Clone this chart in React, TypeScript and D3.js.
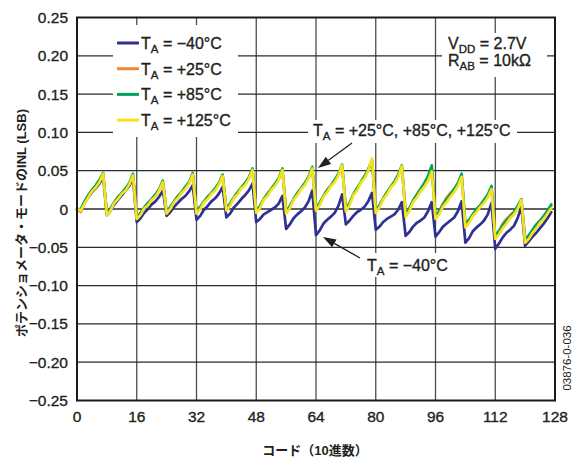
import React from "react";
import * as d3 from "d3";

// INL (LSB) per code, potentiometer mode, VDD = 2.7 V, RAB = 10 kΩ
const inlM40: number[] = [
  0.000, -0.002, 0.008, 0.015, 0.022, 0.027, 0.033, 0.042,
  -0.008, -0.002, 0.006, 0.012, 0.018, 0.024, 0.030, 0.040,
  -0.017, -0.012, -0.005, 0.000, 0.006, 0.010, 0.016, 0.024,
  -0.009, -0.004, 0.003, 0.008, 0.013, 0.017, 0.023, 0.031,
  -0.014, -0.009, -0.001, 0.004, 0.010, 0.014, 0.020, 0.029,
  -0.011, -0.006, 0.002, 0.007, 0.013, 0.018, 0.024, 0.033,
  -0.017, -0.013, -0.007, -0.004, -0.001, 0.002, 0.007, 0.017,
  -0.026, -0.020, -0.012, -0.007, -0.003, 0.002, 0.010, 0.024,
  -0.034, -0.028, -0.019, -0.014, -0.010, -0.005, 0.004, 0.019,
  -0.020, -0.015, -0.009, -0.004, -0.001, 0.003, 0.010, 0.021,
  -0.027, -0.023, -0.017, -0.013, -0.010, -0.007, -0.001, 0.009,
  -0.035, -0.030, -0.023, -0.018, -0.015, -0.011, -0.003, 0.009,
  -0.036, -0.030, -0.023, -0.019, -0.015, -0.011, -0.003, 0.010,
  -0.044, -0.038, -0.029, -0.024, -0.020, -0.015, -0.007, 0.008,
  -0.052, -0.045, -0.037, -0.031, -0.027, -0.022, -0.012, 0.003,
  -0.048, -0.042, -0.036, -0.031, -0.025, -0.019, -0.012, -0.004,
];

const inlP25: number[] = [
  0.000, -0.004, 0.008, 0.017, 0.024, 0.030, 0.036, 0.045,
  -0.006, 0.000, 0.009, 0.015, 0.021, 0.026, 0.033, 0.043,
  -0.012, -0.006, 0.002, 0.007, 0.013, 0.018, 0.025, 0.034,
  -0.004, 0.002, 0.010, 0.016, 0.022, 0.028, 0.034, 0.044,
  -0.004, 0.002, 0.010, 0.015, 0.021, 0.026, 0.033, 0.042,
  0.000, 0.006, 0.015, 0.021, 0.028, 0.033, 0.040, 0.050,
  -0.003, 0.003, 0.013, 0.019, 0.026, 0.032, 0.039, 0.050,
  -0.004, 0.003, 0.013, 0.020, 0.027, 0.033, 0.041, 0.052,
  0.000, 0.007, 0.017, 0.024, 0.031, 0.037, 0.045, 0.056,
  -0.001, 0.007, 0.019, 0.026, 0.035, 0.042, 0.051, 0.064,
  -0.003, 0.004, 0.014, 0.021, 0.029, 0.035, 0.043, 0.055,
  -0.007, 0.000, 0.011, 0.018, 0.026, 0.033, 0.041, 0.053,
  -0.011, -0.004, 0.007, 0.015, 0.021, 0.026, 0.032, 0.043,
  -0.021, -0.015, -0.007, -0.001, 0.005, 0.011, 0.017, 0.027,
  -0.036, -0.029, -0.019, -0.013, -0.008, -0.004, 0.002, 0.011,
  -0.041, -0.036, -0.028, -0.022, -0.016, -0.011, -0.005, 0.004,
];

const inlP85: number[] = [
  0.000, 0.000, 0.010, 0.018, 0.025, 0.031, 0.038, 0.047,
  -0.006, 0.001, 0.009, 0.016, 0.021, 0.027, 0.034, 0.046,
  -0.012, -0.005, 0.002, 0.008, 0.013, 0.019, 0.026, 0.037,
  -0.004, 0.003, 0.010, 0.017, 0.022, 0.029, 0.035, 0.047,
  -0.003, 0.003, 0.010, 0.016, 0.021, 0.027, 0.034, 0.045,
  0.000, 0.007, 0.015, 0.022, 0.028, 0.034, 0.041, 0.053,
  -0.003, 0.004, 0.013, 0.020, 0.026, 0.033, 0.040, 0.053,
  -0.004, 0.004, 0.013, 0.021, 0.027, 0.034, 0.042, 0.055,
  0.001, 0.008, 0.017, 0.025, 0.031, 0.038, 0.046, 0.058,
  0.000, 0.008, 0.019, 0.027, 0.035, 0.043, 0.052, 0.063,
  -0.002, 0.005, 0.014, 0.022, 0.029, 0.036, 0.045, 0.057,
  -0.006, 0.001, 0.011, 0.019, 0.026, 0.034, 0.043, 0.057,
  -0.010, -0.003, 0.006, 0.013, 0.019, 0.026, 0.034, 0.046,
  -0.020, -0.014, -0.007, 0.000, 0.005, 0.012, 0.019, 0.030,
  -0.035, -0.029, -0.021, -0.015, -0.010, -0.004, 0.004, 0.013,
  -0.040, -0.034, -0.027, -0.020, -0.015, -0.009, -0.002, 0.006,
];

const inlP125: number[] = [
  0.000, -0.002, 0.007, 0.015, 0.023, 0.028, 0.035, 0.046,
  -0.008, -0.002, 0.008, 0.013, 0.020, 0.024, 0.032, 0.044,
  -0.013, -0.008, 0.001, 0.005, 0.012, 0.016, 0.024, 0.035,
  -0.006, 0.000, 0.009, 0.014, 0.021, 0.026, 0.033, 0.045,
  -0.006, 0.000, 0.009, 0.013, 0.020, 0.024, 0.032, 0.043,
  -0.002, 0.004, 0.014, 0.019, 0.027, 0.031, 0.039, 0.051,
  -0.005, 0.001, 0.012, 0.017, 0.025, 0.030, 0.038, 0.051,
  -0.006, 0.001, 0.012, 0.018, 0.026, 0.031, 0.040, 0.053,
  -0.002, 0.005, 0.016, 0.022, 0.030, 0.035, 0.044, 0.057,
  -0.003, 0.005, 0.018, 0.024, 0.034, 0.040, 0.050, 0.066,
  -0.005, 0.002, 0.013, 0.019, 0.028, 0.033, 0.042, 0.056,
  -0.010, -0.003, 0.009, 0.015, 0.023, 0.029, 0.037, 0.049,
  -0.013, -0.007, 0.003, 0.009, 0.016, 0.022, 0.030, 0.042,
  -0.024, -0.018, -0.009, -0.004, 0.003, 0.008, 0.015, 0.026,
  -0.039, -0.033, -0.025, -0.019, -0.012, -0.007, 0.000, 0.012,
  -0.044, -0.039, -0.031, -0.025, -0.018, -0.013, -0.006, 0.001,
];

const seriesTemps = ["−40°C", "+25°C", "+85°C", "+125°C"];
const seriesColors = ["#2e3192", "#f58634", "#00a45a", "#f7e21d"];
const seriesValues = [inlM40, inlP25, inlP85, inlP125];

const xTicks = [0, 16, 32, 48, 64, 80, 96, 112, 128];
const yTicks = [0.25, 0.2, 0.15, 0.1, 0.05, 0, -0.05, -0.1, -0.15, -0.2, -0.25];
const yTickLabels = ["0.25", "0.20", "0.15", "0.10", "0.05", "0", "−0.05", "−0.10", "−0.15", "−0.20", "−0.25"];

const W = 573;
const H = 459;
const FONT = "'Liberation Sans', Arial, Helvetica, 'Noto Sans CJK JP', sans-serif";
const TEXT = "#231f20";
// slight outline to give the Helvetica-style labels a medium weight
const heavy = { stroke: TEXT, strokeWidth: 0.35 } as const;

function Arrow({ x1, y1, x2, y2 }: { x1: number; y1: number; x2: number; y2: number }) {
  const ang = Math.atan2(y2 - y1, x2 - x1);
  const len = 13;
  const half = 4.5;
  const bx = x2 - len * Math.cos(ang);
  const by = y2 - len * Math.sin(ang);
  const px = -Math.sin(ang) * half;
  const py = Math.cos(ang) * half;
  return (
    <g>
      <line x1={x1} y1={y1} x2={bx} y2={by} stroke={TEXT} strokeWidth={1.3} />
      <polygon points={`${x2},${y2} ${bx + px},${by + py} ${bx - px},${by - py}`} fill={TEXT} />
    </g>
  );
}

export default function App() {
  const x = d3.scaleLinear().domain([0, 128]).range([77, 555]);
  const y = d3.scaleLinear().domain([-0.25, 0.25]).range([400.5, 17.5]);
  const line = d3
    .line<number>()
    .x((_, i) => x(i))
    .y((d) => y(d))
    .curve(d3.curveLinear);

  const [x0, x1] = x.range();
  const [yb, yt] = y.range();

  return (
    <svg
      width={W}
      height={H}
      viewBox={`0 0 ${W} ${H}`}
      style={{ position: "absolute", left: 0, top: 0, background: "#fff" }}
      fontFamily={FONT}
    >
      <rect x={0} y={0} width={W} height={H} fill="#fff" />

      {/* grid */}
      {xTicks.slice(1, -1).map((t) => (
        <line key={"gx" + t} x1={x(t)} x2={x(t)} y1={yt} y2={yb} stroke="#4d4d4d" strokeWidth={1.3} />
      ))}
      {yTicks.slice(1, -1).map((t) => (
        <line key={"gy" + t} x1={x0} x2={x1} y1={y(t)} y2={y(t)} stroke="#2b2b2b" strokeWidth={1.3} />
      ))}

      {/* label backgrounds */}
      <rect x={113} y={25} width={125} height={112} fill="#fff" />
      <rect x={442} y={33} width={105} height={44} fill="#fff" />
      <rect x={308} y={120} width={209} height={23} fill="#fff" />
      <rect x={362} y={253} width={93} height={24} fill="#fff" />

      {/* curves */}
      {seriesValues.map((vals, i) => (
        <path
          key={"s" + i}
          d={line(vals) || ""}
          fill="none"
          stroke={seriesColors[i]}
          strokeWidth={2.7}
          strokeLinejoin="round"
          strokeLinecap="round"
        />
      ))}

      {/* frame */}
      <rect x={x0} y={yt} width={x1 - x0} height={yb - yt} fill="none" stroke="#1a1a1a" strokeWidth={2} />

      {/* tick labels */}
      {yTicks.map((t, i) => (
        <text key={"yl" + t} x={68} y={y(t) + 5.5} textAnchor="end" fontSize={15.5} fill={TEXT} {...heavy}>
          {yTickLabels[i]}
        </text>
      ))}
      {xTicks.map((t) => (
        <text key={"xl" + t} x={x(t)} y={422} textAnchor="middle" fontSize={15.5} fill={TEXT} {...heavy}>
          {t}
        </text>
      ))}

      {/* axis titles */}
      <text x={315} y={455} textAnchor="middle" fontSize={13} fontWeight="bold" fill={TEXT}>
        コード（10進数）
      </text>
      <text
        transform="translate(26,223) rotate(-90)"
        textAnchor="middle"
        fontSize={13}
        fontWeight="bold"
        fill={TEXT}
      >
        ポテンショメータ・モードのINL (LSB)
      </text>

      {/* legend */}
      {seriesTemps.map((lab, i) => {
        const ly = 43 + i * 25.7;
        return (
          <g key={"lg" + i}>
            <line x1={117} x2={139} y1={ly} y2={ly} stroke={seriesColors[i]} strokeWidth={3} />
            <text x={141} y={ly + 6} fontSize={16} fill={TEXT} {...heavy}>
              T<tspan dy={4} fontSize={11.5}>A</tspan>
              <tspan dy={-4}>{" = " + lab}</tspan>
            </text>
          </g>
        );
      })}

      {/* conditions */}
      <text x={448} y={48.5} fontSize={16} fill={TEXT} {...heavy}>
        V<tspan dy={4} fontSize={11.5}>DD</tspan>
        <tspan dy={-4}> = 2.7V</tspan>
      </text>
      <text x={448} y={65.5} fontSize={16} fill={TEXT} {...heavy}>
        R<tspan dy={4} fontSize={11.5}>AB</tspan>
        <tspan dy={-4}> = 10kΩ</tspan>
      </text>

      {/* callouts */}
      <text x={313} y={136} fontSize={16} fill={TEXT} {...heavy}>
        T<tspan dy={4} fontSize={11.5}>A</tspan>
        <tspan dy={-4}> = +25°C, +85°C, +125°C</tspan>
      </text>
      <Arrow x1={352} y1={143} x2={318} y2={168} />
      <text x={367} y={271} fontSize={16} fill={TEXT} {...heavy}>
        T<tspan dy={4} fontSize={11.5}>A</tspan>
        <tspan dy={-4}> = −40°C</tspan>
      </text>
      <Arrow x1={360} y1={258} x2={323} y2={237} />

      {/* figure number */}
      <text transform="translate(571,358) rotate(-90)" textAnchor="middle" fontSize={11.5} fill={TEXT}>
        03876-0-036
      </text>
    </svg>
  );
}
